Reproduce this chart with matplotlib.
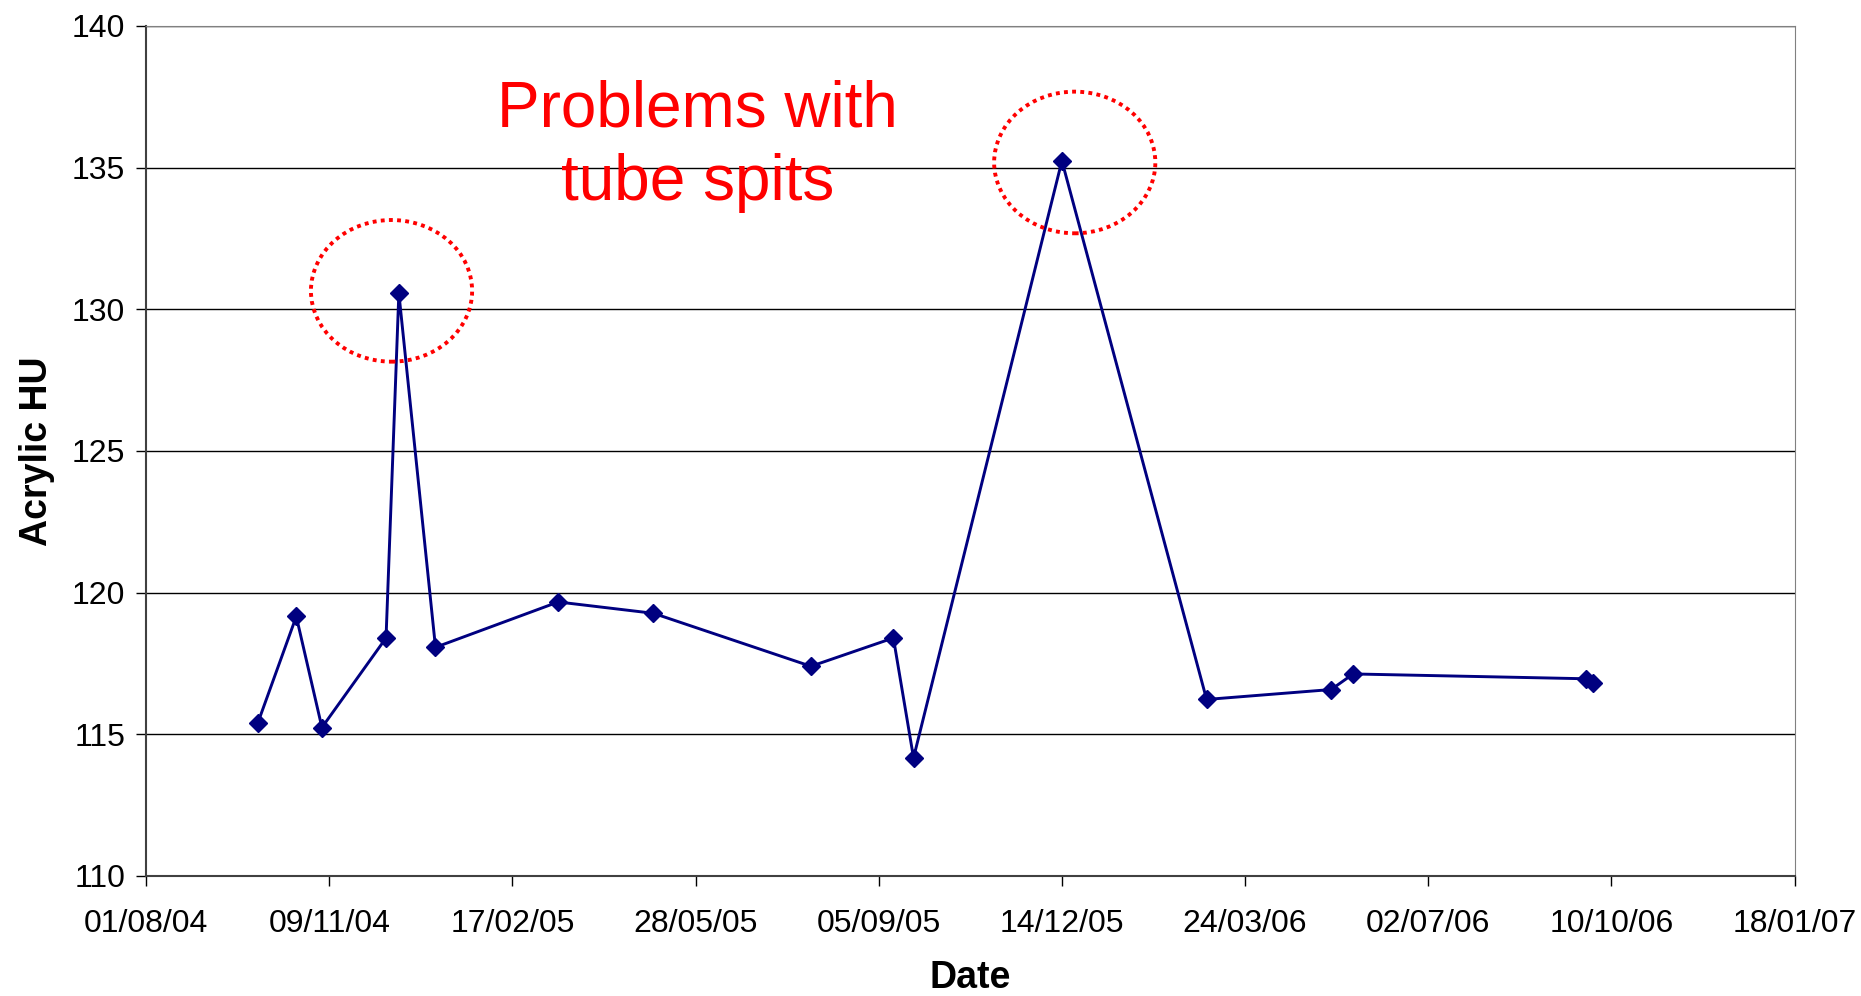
import numpy as np
import matplotlib
matplotlib.use("Agg")
import matplotlib.pyplot as plt
import matplotlib.dates as mdates
from matplotlib.patches import Ellipse

# measurement dates and acrylic HU readings
dates = ["2004-10-01", "2004-10-22", "2004-11-05", "2004-12-10", "2004-12-17",
         "2005-01-06", "2005-03-14", "2005-05-05", "2005-07-30", "2005-09-13",
         "2005-09-24", "2005-12-14", "2006-03-03", "2006-05-10", "2006-05-22",
         "2006-09-26", "2006-09-30"]
hu = [115.40, 119.16, 115.24, 118.40, 130.57,
      118.07, 119.67, 119.27, 117.40, 118.40,
      114.17, 135.24, 116.23, 116.58, 117.13,
      116.96, 116.82]

# circled outliers (centre date, centre HU)
circle_dates = ["2004-12-13", "2005-12-21"]
circle_hu = [130.65, 135.18]

x = mdates.date2num(np.array(dates, dtype="datetime64[D]"))

plt.rcParams['font.family'] = ['Liberation Sans', 'DejaVu Sans']

fig = plt.figure(figsize=(18.61, 9.96), dpi=100)
ax = fig.add_axes([0.0785, 0.1205, 0.9643 - 0.0785, 0.974 - 0.1205])

ax.plot(x, hu, color='#000080', lw=2.1, marker='D', markersize=9, zorder=3)

cx = mdates.date2num(np.array(circle_dates, dtype="datetime64[D]"))
for c, h in zip(cx, circle_hu):
    ax.add_patch(Ellipse((c, h), 88, 5.0, fill=False, edgecolor='red',
                         lw=2.8, linestyle=(0, (1, 1.1)), zorder=4))

ax.text(mdates.date2num(np.datetime64("2005-05-29")), 135.75, "Problems with\ntube spits",
        color='red', fontsize=46, ha='center', va='center', linespacing=1.3)

ticks = np.arange(np.datetime64("2004-08-01"), np.datetime64("2007-01-19"), np.timedelta64(100, 'D'))
ax.set_xticks(mdates.date2num(ticks))
ax.xaxis.set_major_formatter(mdates.DateFormatter('%d/%m/%y'))
ax.set_xlim(mdates.date2num(ticks[0]), mdates.date2num(ticks[-1]))
ax.set_ylim(110, 140)
ax.set_yticks(np.arange(110, 141, 5))

ax.yaxis.grid(True, color='black', lw=1.0)
ax.set_axisbelow(True)
for s in ['top', 'right']:
    ax.spines[s].set_color('#808080')
for s in ['left', 'bottom']:
    ax.spines[s].set_color('#404040')
    ax.spines[s].set_linewidth(1.5)

ax.tick_params(axis='both', direction='out', length=7, width=1, labelsize=23)
ax.tick_params(axis='x', pad=17)
ax.tick_params(axis='y', pad=8)

ax.set_xlabel('Date', fontsize=27, fontweight='bold', labelpad=15)
ax.set_ylabel('Acrylic HU', fontsize=27, fontweight='bold', labelpad=12)

fig.savefig('out.png', dpi=100)
